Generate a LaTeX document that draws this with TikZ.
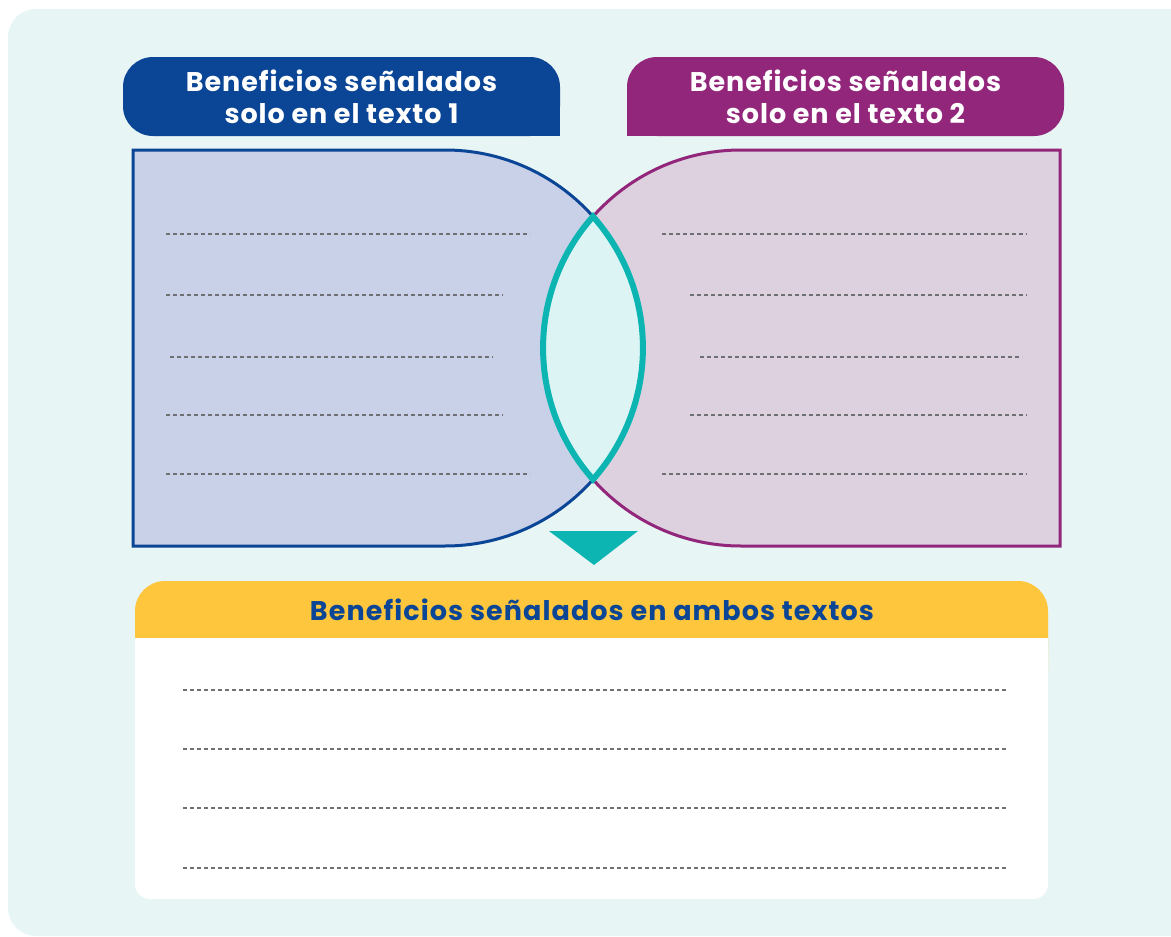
\documentclass[tikz,border=0pt]{standalone}
\usepackage{fontspec}
\setmainfont{Poppins}
\newfontfamily\hfont{Poppins}[LetterSpace=3.5]
\newfontfamily\bfont{Poppins}[LetterSpace=4]
\definecolor{bgc}{HTML}{E7F5F5}
\definecolor{bluec}{HTML}{0B4595}
\definecolor{purc}{HTML}{92267A}
\definecolor{lfill}{HTML}{C8D1E8}
\definecolor{rfill}{HTML}{DDD1DF}
\definecolor{tealc}{HTML}{0DB5B2}
\definecolor{lensc}{HTML}{DDF4F5}
\definecolor{yelc}{HTML}{FDC63D}
\definecolor{dotc}{HTML}{6E7072}
\tikzset{
  dotline/.style={draw=dotc, line width=2.5pt, dash pattern=on 4pt off 3pt},
  headtext/.style={text=white, font=\hfont\bfseries\fontsize{27}{32}\selectfont, align=center, inner sep=0pt},
  bottext/.style={text=bluec, font=\bfont\bfseries\fontsize{27}{30}\selectfont, inner sep=0pt},
}
\begin{document}
\begin{tikzpicture}[x=1pt,y=-1pt]
\useasboundingbox (0,0) rectangle (1171,937);
% background panel
\fill[bgc, rounded corners=28] (8,9) rectangle (1200,936);
% headers
\fill[bluec, rounded corners=30] (123,57) rectangle (560,136);
\fill[bluec] (520,100) rectangle (560,136);
\fill[purc, rounded corners=30] (627,57) rectangle (1064,136);
\fill[purc] (627,100) rectangle (667,136);
\node[headtext] (h1) at (341.5,97) {Beneficios señalados\\solo en el texto 1};
\node[headtext] (h2) at (845.5,97) {Beneficios señalados\\solo en el texto 2};
% left and right shapes
\filldraw[fill=lfill, draw=bluec, line width=3pt] (133,150) -- (445,150) arc[start angle=-90, end angle=90, radius=198] -- (133,546) -- cycle;
\filldraw[fill=rfill, draw=purc, line width=3pt] (1060,150) -- (741,150) arc[start angle=-90, end angle=-270, radius=198] -- (1060,546) -- cycle;
% lens
\filldraw[fill=lensc, draw=tealc, line width=6pt, line join=miter] (593,216.5) arc[start angle=-41.6, end angle=41.6, radius=198] arc[start angle=138.4, end angle=221.6, radius=198] -- cycle;
% dotted lines left
\draw[dotline] (166,234) -- (530,234);
\draw[dotline] (166,295) -- (503,295);
\draw[dotline] (170,357) -- (493,357);
\draw[dotline] (166,415) -- (503,415);
\draw[dotline] (166,474) -- (530,474);
% dotted lines right
\draw[dotline] (662,234) -- (1027,234);
\draw[dotline] (690,295) -- (1027,295);
\draw[dotline] (700,357) -- (1022,357);
\draw[dotline] (690,415) -- (1027,415);
\draw[dotline] (662,474) -- (1027,474);
% triangle
\fill[tealc] (549,531) -- (638,531) -- (594,565) -- cycle;
% bottom box
\fill[yelc, rounded corners=30] (135,581) rectangle (1048,700);
\fill[white, rounded corners=15] (135,638) rectangle (1048,899);
\fill[white] (135,638) rectangle (1048,680);
\node[bottext] (h3) at (592,610) {Beneficios señalados en ambos textos};
\draw[dotline] (183,690) -- (1008,690);
\draw[dotline] (183,749) -- (1008,749);
\draw[dotline] (183,808) -- (1008,808);
\draw[dotline] (183,868) -- (1008,868);
\end{tikzpicture}
\end{document}
